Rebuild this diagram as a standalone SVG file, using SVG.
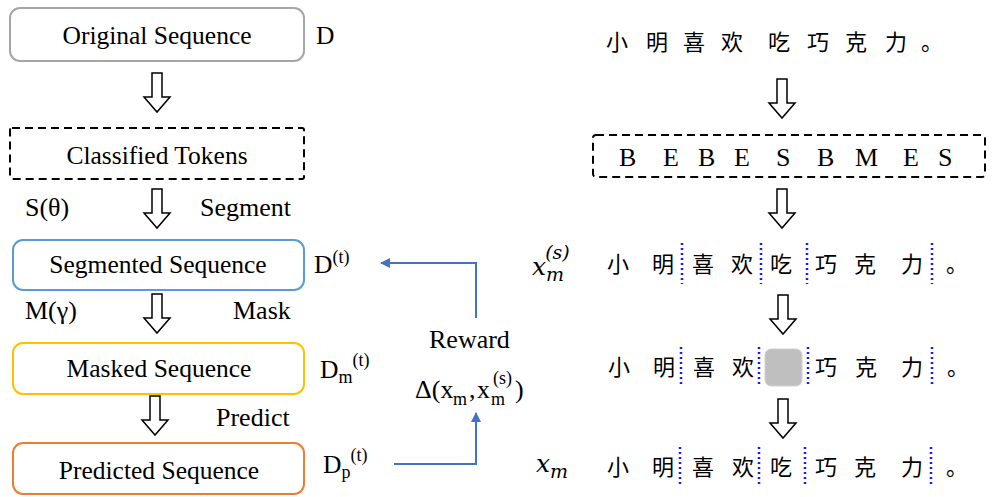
<svg xmlns="http://www.w3.org/2000/svg" width="994" height="497" viewBox="0 0 994 497">
<style>
.t{font-family:"Liberation Serif","Times New Roman",serif;font-size:25.5px;fill:#000}
.l{font-family:"Liberation Serif","Times New Roman",serif;font-size:26px;fill:#000}
.ls{font-family:"Liberation Serif","Times New Roman",serif;font-size:18px;fill:#000}
.m{font-family:"DejaVu Serif","Liberation Serif",serif;font-style:italic;font-size:25px;fill:#000}
.ms{font-size:19px}
.cjk{font-family:"Noto Sans CJK SC","Noto Sans CJK JP",sans-serif;font-size:22px;fill:#000;text-anchor:middle}
.tag{font-family:"Liberation Serif","Times New Roman",serif;font-size:26px;fill:#000}
.box{fill:#fff;stroke-width:2}
.dash{fill:none;stroke:#000;stroke-width:2;stroke-dasharray:8 5}
.dot{stroke:#1a1aff;stroke-width:2.5;stroke-dasharray:2 3}
.link{fill:none;stroke:#4472c4;stroke-width:2}
.sup{font-size:18px}
</style>
<defs>
<path id="harrow" d="M-5,0 H5 V24 H13 L0,39 L-13,24 H-5 Z" fill="#fff" stroke="#000" stroke-width="1.5"/>
<marker id="ah" viewBox="0 0 10 10" refX="9" refY="5" markerWidth="5" markerHeight="5" orient="auto" markerUnits="strokeWidth">
<path d="M0,0 L10,5 L0,10 Z" fill="#4472c4"/>
</marker>
</defs>

<g id="orig">
<rect class="box" x="10" y="8" width="294" height="53" rx="10" stroke="#a6a6a6"/>
<text class="t" x="157" y="44" text-anchor="middle">Original Sequence</text>
<text class="t" x="316" y="44">D</text>
</g>
<g id="classified">
<rect class="dash" x="10" y="128" width="294" height="51" rx="2"/>
<text class="t" x="157" y="164" text-anchor="middle">Classified Tokens</text>
</g>
<g id="segmented">
<rect class="box" x="13" y="240" width="291" height="50" rx="10" stroke="#5b9bd5"/>
<text class="t" x="158" y="273" text-anchor="middle">Segmented Sequence</text>
<text class="t" x="314" y="273">D<tspan class="sup" dy="-10">(t)</tspan></text>
</g>
<g id="masked">
<rect class="box" x="13" y="343" width="291" height="51" rx="10" stroke="#ffc000"/>
<text class="t" x="159" y="377" text-anchor="middle">Masked Sequence</text>
<text class="t" x="320" y="378">D<tspan class="sup" dy="5">m</tspan><tspan class="sup" dy="-17">(t)</tspan></text>
</g>
<g id="predicted">
<rect class="box" x="13" y="443" width="291" height="51" rx="10" stroke="#ed7d31"/>
<text class="t" x="159" y="479" text-anchor="middle">Predicted Sequence</text>
<text class="t" x="323" y="473">D<tspan class="sup" dy="5">p</tspan><tspan class="sup" dy="-17">(t)</tspan></text>
</g>

<g id="labels">
<text class="l" x="25" y="216">S(θ)</text>
<text class="l" x="200" y="216">Segment</text>
<text class="l" x="25" y="319">M(γ)</text>
<text class="l" x="233" y="319">Mask</text>
<text class="l" x="216" y="426">Predict</text>
<text class="l" x="429" y="348">Reward</text>
<text class="l" x="415" y="398">Δ(x</text>
<text class="ls" x="453" y="405">m</text>
<text class="l" x="469" y="398">,</text>
<text class="l" x="477" y="398">x</text>
<text class="ls" x="491" y="405">m</text>
<text class="ls" x="493" y="384">(s)</text>
<text class="l" x="515" y="398">)</text>
</g>

<g id="connectors">
<use href="#harrow" x="157" y="73"/>
<use href="#harrow" x="157" y="189"/>
<use href="#harrow" x="157" y="294"/>
<use href="#harrow" x="155" y="396"/>
<use href="#harrow" x="782" y="79"/>
<use href="#harrow" x="782" y="189"/>
<use href="#harrow" x="783" y="295"/>
<use href="#harrow" x="783" y="399"/>
<polyline class="link" points="394,464 476,464 476,413" marker-end="url(#ah)"/>
<polyline class="link" points="476,318 476,263 381,263" marker-end="url(#ah)"/>
</g>

<g id="sentence">
<text class="cjk" x="617" y="50">小</text>
<text class="cjk" x="657" y="50">明</text>
<text class="cjk" x="694" y="50">喜</text>
<text class="cjk" x="732" y="50">欢</text>
<text class="cjk" x="779" y="50">吃</text>
<text class="cjk" x="818" y="50">巧</text>
<text class="cjk" x="856" y="50">克</text>
<text class="cjk" x="896" y="50">力</text>
<text class="cjk" x="932" y="50">。</text>
</g>

<g id="tags">
<rect class="dash" x="593" y="135" width="392" height="42" rx="3"/>
<text class="tag" x="619" y="166">B</text>
<text class="tag" x="663" y="166">E</text>
<text class="tag" x="698" y="166">B</text>
<text class="tag" x="734" y="166">E</text>
<text class="tag" x="776" y="166">S</text>
<text class="tag" x="817" y="166">B</text>
<text class="tag" x="855" y="166">M</text>
<text class="tag" x="903" y="166">E</text>
<text class="tag" x="938" y="166">S</text>
</g>

<g id="row-seg">
<text class="m" x="532" y="275">x<tspan class="ms" dy="6">m</tspan><tspan class="ms" dx="-19" dy="-22">(s)</tspan></text>
<text class="cjk" x="618" y="272">小</text>
<text class="cjk" x="663" y="272">明</text>
<text class="cjk" x="703" y="272">喜</text>
<text class="cjk" x="742" y="272">欢</text>
<text class="cjk" x="781" y="272">吃</text>
<text class="cjk" x="826" y="272">巧</text>
<text class="cjk" x="865" y="272">克</text>
<text class="cjk" x="912" y="272">力</text>
<text class="cjk" x="957" y="272">。</text>
<line class="dot" x1="682" y1="243" x2="682" y2="284"/>
<line class="dot" x1="761" y1="243" x2="761" y2="284"/>
<line class="dot" x1="807" y1="243" x2="807" y2="284"/>
<line class="dot" x1="932" y1="243" x2="932" y2="284"/>
</g>

<g id="row-mask">
<text class="cjk" x="619" y="375">小</text>
<text class="cjk" x="664" y="375">明</text>
<text class="cjk" x="704" y="375">喜</text>
<text class="cjk" x="743" y="375">欢</text>
<rect x="765" y="349" width="37" height="37" rx="6" fill="#bfbfbf" stroke="#d0d0d0"/>
<text class="cjk" x="826" y="375">巧</text>
<text class="cjk" x="866" y="375">克</text>
<text class="cjk" x="912" y="375">力</text>
<text class="cjk" x="958" y="375">。</text>
<line class="dot" x1="681" y1="347" x2="681" y2="387"/>
<line class="dot" x1="759" y1="347" x2="759" y2="387"/>
<line class="dot" x1="808" y1="347" x2="808" y2="387"/>
<line class="dot" x1="932" y1="347" x2="932" y2="387"/>
</g>

<g id="row-pred">
<text class="m" x="536" y="472">x<tspan class="ms" dy="6">m</tspan></text>
<text class="cjk" x="618" y="475">小</text>
<text class="cjk" x="663" y="475">明</text>
<text class="cjk" x="703" y="475">喜</text>
<text class="cjk" x="743" y="475">欢</text>
<text class="cjk" x="781" y="475">吃</text>
<text class="cjk" x="826" y="475">巧</text>
<text class="cjk" x="865" y="475">克</text>
<text class="cjk" x="912" y="475">力</text>
<text class="cjk" x="957" y="475">。</text>
<line class="dot" x1="680" y1="447" x2="680" y2="487"/>
<line class="dot" x1="759" y1="447" x2="759" y2="487"/>
<line class="dot" x1="805" y1="447" x2="805" y2="487"/>
<line class="dot" x1="931" y1="447" x2="931" y2="487"/>
</g>
</svg>
